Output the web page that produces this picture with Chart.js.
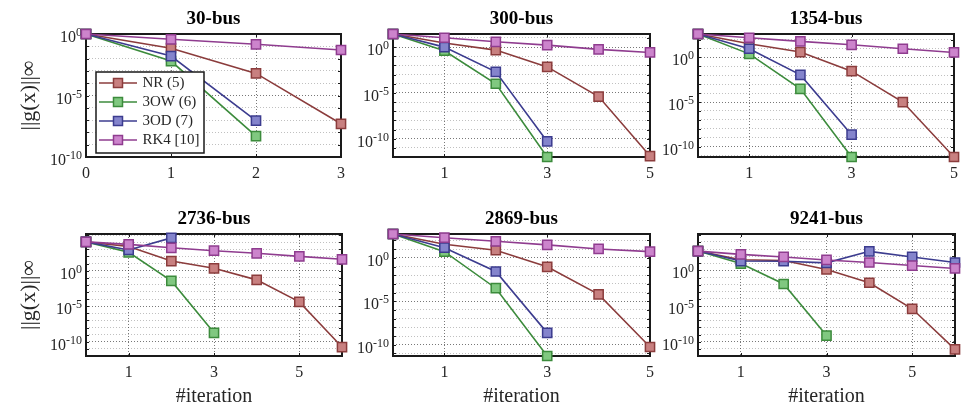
<!DOCTYPE html>
<html>
<head>
<meta charset="utf-8">
<script src="https://cdn.jsdelivr.net/npm/chart.js@4.4.1/dist/chart.umd.min.js"></script>
<style>
html, body { margin: 0; padding: 0; background: #fff; width: 964px; height: 409px; overflow: hidden; }
canvas { position: absolute; }
</style>
</head>
<body>
<canvas id="c0"></canvas>
<canvas id="c1"></canvas>
<canvas id="c2"></canvas>
<canvas id="c3"></canvas>
<canvas id="c4"></canvas>
<canvas id="c5"></canvas>
<script>
// x values (iteration number)
const iterations = [0, 1, 2, 3, 4, 5, 6];
const methods = ['NR (5)', '3OW (6)', '3OD (7)', 'RK4 [10]'];
const titles = ['30-bus', '300-bus', '1354-bus', '2736-bus', '2869-bus', '9241-bus'];

// ||g(x)||_inf per iteration
const nr30 = [1, 7e-2, 6.3e-4, 5e-8];
const ow30 = [1, 6.3e-3, 5e-9];
const od30 = [1, 1.6e-2, 9e-8];
const rk30 = [1, 0.37, 0.145, 0.05];

const nr300 = [27, 2.8, 0.47, 6.9e-3, 4e-6, 1.26e-12];
const ow300 = [27, 0.4, 1e-4, 1e-12];
const od300 = [27, 1.0, 2e-3, 5e-11];
const rk300 = [27, 10.5, 3.8, 1.66, 0.56, 0.26];

const nr1354 = [420, 34, 4.0, 2.9e-2, 1e-5, 7e-12];
const ow1354 = [420, 2.5, 3e-4, 7e-12];
const od1354 = [420, 9.3, 1.1e-2, 2.2e-9];
const rk1354 = [420, 160, 63, 26, 9.3, 3.6];

const nr2736 = [1.1e4, 2500, 22, 2.1, 5e-2, 4e-5, 1.8e-11];
const ow2736 = [1.1e4, 370, 3.6e-2, 1.8e-9];
const od2736 = [1.1e4, 800, 4e4];
const rk2736 = [1.1e4, 4900, 1600, 630, 270, 100, 39];

const nr2869 = [560, 37, 7.6, 9.3e-2, 6.3e-5, 5.4e-11];
const ow2869 = [560, 5.2, 3.2e-4, 5e-12];
const od2869 = [560, 15, 2.7e-2, 2.3e-9];
const rk2869 = [560, 210, 81, 31, 10.7, 5.2];

const nr9241 = [520, 32, 25, 1.4, 1.9e-2, 4.2e-6, 8.5e-12];
const ow9241 = [520, 9.3, 1.26e-2, 7.4e-10];
const od9241 = [520, 21, 19.5, 11.5, 480, 78, 13];
const rk9241 = [520, 180, 78, 30, 13, 4.9, 1.9];

const panelData = [
    [nr30, ow30, od30, rk30],
    [nr300, ow300, od300, rk300],
    [nr1354, ow1354, od1354, rk1354],
    [nr2736, ow2736, od2736, rk2736],
    [nr2869, ow2869, od2869, rk2869],
    [nr9241, ow9241, od9241, rk9241]
];

// axis ranges and ticks
const xMax = [3, 5, 5, 6, 5, 6];
const xTicks30 = [0, 1, 2, 3];
const xTicksOther = [1, 3, 5];
const yMin = [1e-10, 1e-12, 7e-12, 1e-12, 5e-12, 1e-12];
const yMax = [1, 27, 420, 1.4e5, 560, 1.3e5];
const yLabelExp = [0, -5, -10];
const yLabelBase = '10';
const yLabelSup = ['0', '-5', '-10'];

// styles
const lineColors = ['#8b3c3c', '#3c8b3c', '#3c3c8f', '#8f3c8f'];
const fillColors = ['#c88080', '#80c880', '#8484cc', '#cc84cc'];
const fontFamily = '"Liberation Serif", "Times New Roman", serif';

// layout (pixels)
const plotLeft = [86, 393, 698];
const plotW = [256, 258, 257];
const yAxisW = [86, 60, 60];
const padRight = 10;
const rowTop = [0, 200];
const titleH = 34;
const plotH = [123, 122];
const xAxisH = [43, 53];
const legendBox = { x: 96, y: 72, w: 108, h: 81 };

Chart.defaults.font.family = fontFamily;
Chart.defaults.color = '#262626';

// legend icon: short line with a square marker
function makeIcon(k) {
    const c = document.createElement('canvas');
    c.width = 38; c.height = 14;
    const g = c.getContext('2d');
    g.strokeStyle = lineColors[k];
    g.lineWidth = 1.6;
    g.beginPath(); g.moveTo(0, 7); g.lineTo(38, 7); g.stroke();
    g.fillStyle = fillColors[k];
    g.fillRect(14.5, 2.5, 9, 9);
    g.lineWidth = 1.5;
    g.strokeRect(14.5, 2.5, 9, 9);
    return c;
}
const legendIcons = [0, 1, 2, 3].map(makeIcon);

const framePlugin = {
    id: 'frame',
    afterLayout(chart) {
        if (!chart.options.plugins.legend.display) return;
        const lg = chart.legend;
        lg.left = legendBox.x + 1;
        lg.top = legendBox.y - 0.5;
        lg.width = legendBox.w - 1;
        lg.height = legendBox.h + 4;
        lg.right = lg.left + lg.width;
        lg.bottom = lg.top + lg.height;
    },
    beforeDatasetsDraw(chart) {
        const { ctx, chartArea: a, scales } = chart;
        ctx.save();
        ctx.strokeStyle = '#1a1a1a';
        ctx.lineWidth = 1;
        ctx.beginPath();
        scales.y.ticks.forEach(t => {
            const py = Math.round(scales.y.getPixelForValue(t.value)) + 0.5;
            ctx.moveTo(a.left, py); ctx.lineTo(a.left + 3, py);
            ctx.moveTo(a.right, py); ctx.lineTo(a.right - 3, py);
        });
        scales.x.ticks.forEach(t => {
            const px = Math.round(scales.x.getPixelForValue(t.value)) + 0.5;
            ctx.moveTo(px, a.bottom); ctx.lineTo(px, a.bottom - 3);
            ctx.moveTo(px, a.top); ctx.lineTo(px, a.top + 3);
        });
        ctx.stroke();
        ctx.lineWidth = 2;
        ctx.strokeRect(a.left, a.top, a.right - a.left, a.bottom - a.top);

        // y tick labels as 10 with a raised exponent
        const ys = scales.y;
        ctx.fillStyle = '#262626';
        ctx.textAlign = 'right';
        ctx.textBaseline = 'alphabetic';
        ys.ticks.forEach(t => {
            const k = yLabelExp.indexOf(Math.round(Math.log10(t.value)));
            if (k < 0) return;
            const py = ys.getPixelForValue(t.value);
            const xr = a.left - 4;
            ctx.font = '12px ' + fontFamily;
            const ew = ctx.measureText(yLabelSup[k]).width;
            ctx.fillText(yLabelSup[k], xr, py + 2);
            ctx.font = '16px ' + fontFamily;
            ctx.fillText(yLabelBase, xr - ew, py + 8);
        });
        ctx.restore();
    },
    afterDatasetsDraw(chart) {
        if (!chart.options.plugins.legend.display) return;
        const ctx = chart.ctx;
        ctx.save();
        ctx.fillStyle = '#fff';
        ctx.fillRect(legendBox.x, legendBox.y, legendBox.w, legendBox.h);
        ctx.strokeStyle = '#1a1a1a';
        ctx.lineWidth = 1.5;
        ctx.strokeRect(legendBox.x, legendBox.y, legendBox.w, legendBox.h);
        ctx.restore();
        chart.legend.draw();
    }
};

for (let p = 0; p < 6; p++) {
    const col = p % 3, row = Math.floor(p / 3);
    const canvas = document.getElementById('c' + p);
    const w = yAxisW[col] + plotW[col] + padRight;
    const h = titleH + plotH[row] + xAxisH[row];
    canvas.width = w; canvas.height = h;
    canvas.style.left = (plotLeft[col] - yAxisW[col]) + 'px';
    canvas.style.top = rowTop[row] + 'px';

    const datasets = panelData[p].map((vals, k) => ({
        label: methods[k],
        data: vals.map((v, i) => ({ x: iterations[i], y: v })),
        borderColor: lineColors[k],
        backgroundColor: fillColors[k],
        borderWidth: 1.6,
        pointStyle: 'rect',
        pointRadius: 6.5,
        pointBorderWidth: 1.5,
        pointBorderColor: lineColors[k],
        pointBackgroundColor: fillColors[k],
        tension: 0,
        clip: false,
        order: 4 - k
    }));

    const xt = p === 0 ? xTicks30 : xTicksOther;

    new Chart(canvas.getContext('2d'), {
        type: 'line',
        data: { datasets },
        options: {
            responsive: false,
            animation: false,
            events: [],
            layout: { padding: { left: 0, top: 0, right: padRight, bottom: 0 } },
            plugins: {
                tooltip: { enabled: false },
                title: {
                    display: true,
                    text: titles[p],
                    fullSize: false,
                    color: '#000',
                    font: { size: 19, weight: 'bold' },
                    padding: { top: 8, bottom: titleH - 8 - 19 * 1.2 }
                },
                legend: {
                    display: p === 0,
                    position: 'chartArea',
                    align: 'start',
                    labels: {
                        usePointStyle: true,
                        pointStyleWidth: 34,
                        padding: 4,
                        font: { size: 15 },
                        color: '#262626',
                        generateLabels: chart => chart.data.datasets.map((ds, i) => ({
                            text: ds.label,
                            fillStyle: ds.backgroundColor,
                            strokeStyle: ds.borderColor,
                            lineWidth: 0,
                            pointStyle: legendIcons[i],
                            hidden: false,
                            datasetIndex: i,
                            fontColor: '#262626'
                        }))
                    }
                }
            },
            scales: {
                x: {
                    type: 'linear',
                    min: 0,
                    max: xMax[p],
                    afterBuildTicks: s => { s.ticks = xt.map(v => ({ value: v })); },
                    afterFit: s => { s.height = xAxisH[row]; },
                    ticks: { autoSkip: false, maxRotation: 0, padding: 7, font: { size: 16 }, color: '#262626' },
                    grid: { color: 'rgba(30,30,30,0.6)', lineWidth: 1, drawTicks: false },
                    border: { display: false, dash: [1, 2] },
                    title: {
                        display: row === 1,
                        text: '#iteration',
                        font: { size: 20 },
                        color: '#262626',
                        padding: { top: 0, bottom: 0 }
                    }
                },
                y: {
                    type: 'logarithmic',
                    min: yMin[p],
                    max: yMax[p],
                    afterBuildTicks: s => {
                        const t = [];
                        for (let e = Math.ceil(Math.log10(s.min) - 1e-9); e <= Math.log10(s.max) + 1e-9; e++) {
                            t.push({ value: Math.pow(10, e) });
                        }
                        s.ticks = t;
                    },
                    afterFit: s => { s.width = yAxisW[col]; },
                    ticks: { autoSkip: false, callback: () => '' },
                    grid: {
                        drawTicks: false,
                        lineWidth: 1,
                        color: c => yLabelExp.indexOf(Math.round(Math.log10(c.tick.value))) >= 0
                            ? 'rgba(30,30,30,0.6)' : 'rgba(30,30,30,0.28)'
                    },
                    border: { display: false, dash: [1, 2] },
                    title: {
                        display: col === 0,
                        text: '||g(x)||\u221E',
                        font: { size: 22 },
                        color: '#262626',
                        padding: { top: 16, bottom: 0 }
                    }
                }
            }
        },
        plugins: [framePlugin]
    });
}
</script>
</body>
</html>
